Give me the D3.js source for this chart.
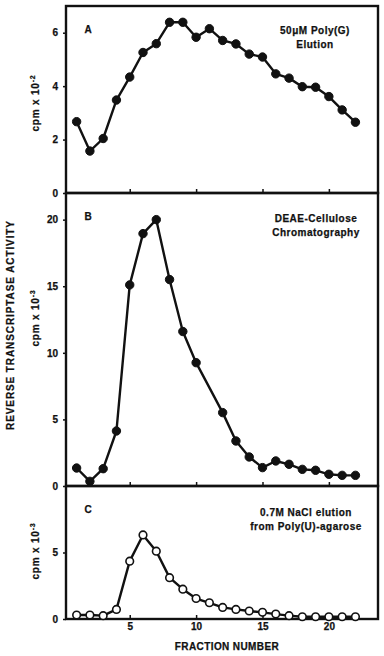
<!DOCTYPE html>
<html>
<head>
<meta charset="utf-8">
<script src="https://cdn.jsdelivr.net/npm/d3@7"></script>
<style>
  body { margin: 0; background: #fff; }
  svg text { font-family: "Liberation Sans", Arial, sans-serif; font-weight: bold; fill: #111; stroke: #111; stroke-width: 0.25; }
</style>
</head>
<body>
<script>
// fraction numbers 1..22
var fractions = d3.range(1, 23)

// panel A: 50uM poly(G) elution, cpm x 10^-2
var polyG = [2.67, 1.57, 2.04, 3.48, 4.34, 5.26, 5.59, 6.39, 6.39, 5.83, 6.15,
  5.71, 5.58, 5.2, 5.09, 4.46, 4.3, 3.98, 3.96, 3.61, 3.11, 2.65]

// panel B: DEAE-cellulose, cpm x 10^-3 (fraction 11 not plotted)
var deae = [1.35, 0.35, 1.3, 4.13, 15.1, 18.95, 20.0, 15.5, 11.6, 9.26, null,
  5.51, 3.38, 2.18, 1.38, 1.88, 1.63, 1.25, 1.18, 0.88, 0.8, 0.8]

// panel C: 0.7M NaCl elution from poly(U)-agarose, cpm x 10^-3
var polyU = [0.3, 0.3, 0.25, 0.72, 4.35, 6.32, 5.1, 3.11, 2.24, 1.54, 1.22,
  0.87, 0.72, 0.6, 0.5, 0.37, 0.25, 0.17, 0.17, 0.17, 0.17, 0.17]

var xTicks = [5, 10, 15, 20]
var ticksA = [0, 2, 4, 6]
var ticksB = [0, 5, 10, 15, 20]
var ticksC = [0, 5]

var width = 384, height = 656
var left = 66, right = 378

var svg = d3.select('body').append('svg')
  .attr('width', width)
  .attr('height', height)

var x = d3.scaleLinear().domain([0.2, 23.7]).range([left, right])

var panels = [
  { id: 'A', values: polyG, ticks: ticksA, max: 7, top: 6, bottom: 193, exp: '-2',
    note: ['50\u03bcM Poly(G)', 'Elution'], noteX: 315, noteY: 30, open: false, labY: 103 },
  { id: 'B', values: deae, ticks: ticksB, max: 22, top: 193, bottom: 486, exp: '-3',
    note: ['DEAE-Cellulose', 'Chromatography'], noteX: 316, noteY: 218, open: false, labY: 318 },
  { id: 'C', values: polyU, ticks: ticksC, max: 10, top: 486, bottom: 619, exp: '-3',
    note: ['0.7M NaCl elution', 'from Poly(U)-agarose'], noteX: 306, noteY: 512, open: true, labY: 551 }
]

panels.forEach(function (p) {
  var y = d3.scaleLinear().domain([0, p.max]).range([p.bottom, p.top])
  var g = svg.append('g')

  // frame
  g.append('rect')
    .attr('x', left).attr('y', p.top)
    .attr('width', right - left).attr('height', p.bottom - p.top)
    .attr('fill', 'none').attr('stroke', '#111').attr('stroke-width', 2.4)

  // x ticks pointing up into the panel
  var xa = g.append('g')
    .attr('transform', 'translate(0,' + p.bottom + ')')
    .call(d3.axisBottom(x).tickValues(xTicks).tickSize(-4).tickFormat(p.id == 'C' ? d3.format('d') : ''))
  xa.select('.domain').remove()
  xa.selectAll('line').attr('stroke', '#111').attr('stroke-width', 1.5)
  xa.selectAll('text').attr('font-size', 10).attr('dy', '0.55em').attr('y', 5)

  // y axis
  var ya = g.append('g')
    .attr('transform', 'translate(' + left + ',0)')
    .call(d3.axisLeft(y).tickValues(p.ticks).tickSize(3).tickPadding(5).tickFormat(d3.format('d')))
  ya.select('.domain').remove()
  ya.selectAll('line').attr('stroke', '#111').attr('stroke-width', 1.5)
  ya.selectAll('text').attr('font-size', 10)

  // axis title
  var t = g.append('text')
    .attr('transform', 'translate(39,' + p.labY + ') rotate(-90)')
    .attr('text-anchor', 'middle')
    .attr('font-size', 10)
    .attr('letter-spacing', 0.8)
  t.append('tspan').text('cpm x 10')
  t.append('tspan').attr('font-size', 7).attr('dy', -4).text(p.exp)

  // panel letter
  g.append('text')
    .attr('x', 88).attr('y', p.top + 27)
    .attr('text-anchor', 'middle')
    .attr('font-size', 10)
    .text(p.id)

  // note
  p.note.forEach(function (s, i) {
    g.append('text')
      .attr('x', p.noteX).attr('y', p.noteY + 3.5 + i * 14)
      .attr('text-anchor', 'middle')
      .attr('font-size', 10)
      .attr('letter-spacing', 0.5)
      .text(s)
  })

  var pts = fractions.map(function (f, i) { return { f: f, v: p.values[i] } })
    .filter(function (d) { return d.v != null })

  var line = d3.line()
    .x(function (d) { return x(d.f) })
    .y(function (d) { return y(d.v) })

  g.append('path')
    .datum(pts)
    .attr('d', line)
    .attr('fill', 'none')
    .attr('stroke', '#111')
    .attr('stroke-width', 2.4)
    .attr('stroke-linejoin', 'round')

  g.selectAll('circle')
    .data(pts)
    .enter().append('circle')
    .attr('cx', function (d) { return x(d.f) })
    .attr('cy', function (d) { return y(d.v) })
    .attr('r', p.open ? 3.8 : 4.2)
    .attr('fill', p.open ? '#fff' : '#111')
    .attr('stroke', '#111')
    .attr('stroke-width', p.open ? 1.6 : 1)
})

// shared titles
svg.append('text')
  .attr('transform', 'translate(14,325) rotate(-90)')
  .attr('text-anchor', 'middle')
  .attr('font-size', 10)
  .attr('letter-spacing', 0.9)
  .text('REVERSE TRANSCRIPTASE ACTIVITY')

svg.append('text')
  .attr('x', 227).attr('y', 650)
  .attr('text-anchor', 'middle')
  .attr('font-size', 10)
  .attr('letter-spacing', 0.4)
  .text('FRACTION NUMBER')
</script>
</body>
</html>
